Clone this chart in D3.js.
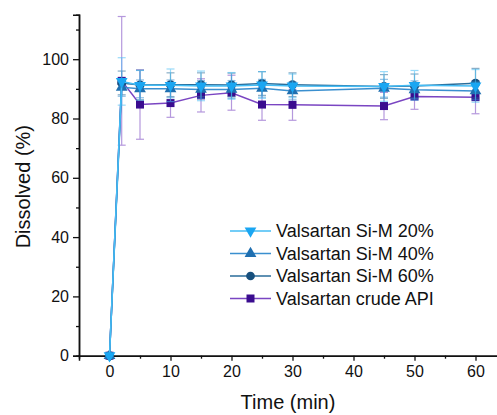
<!DOCTYPE html>
<html>
<head>
<meta charset="utf-8">
<script src="https://cdn.jsdelivr.net/npm/d3@7"></script>
<style>
  body { margin: 0; background: #fff; }
  svg { display: block; font-family: "Liberation Sans", Arial, sans-serif; }
</style>
</head>
<body>
<svg id="chart" width="497" height="415"></svg>
<script>
// ─── data ─────────────────────────────────────────────────────────────
const times = [0, 2, 5, 10, 15, 20, 25, 30, 45, 50, 60];

const si20 = [0, 92.5, 91.2, 91.2, 91.0, 91.0, 91.3, 91.0, 90.8, 91.2, 91.0];
const si20Err = [0, 8, 5, 5.5, 5, 4.5, 4.5, 4, 5, 5, 5.5];
const si40 = [0, 90.5, 90.0, 90.0, 89.8, 89.8, 90.2, 89.3, 90.2, 89.7, 89.3];
const si40Err = [0, 3, 3, 3, 3, 3, 3, 3, 3, 3, 3];
const si60 = [0, 92.0, 91.3, 91.4, 91.4, 91.3, 91.8, 91.4, 90.8, 91.0, 91.9];
const si60Err = [0, 4, 5, 4, 4, 4, 4, 4, 4, 4, 5];
const crude = [0, 92.7, 84.7, 85.2, 87.8, 88.7, 84.7, 84.6, 84.2, 87.4, 87.2];
const crudeErr = [0, 21.7, 11.7, 4.8, 5.6, 5.9, 5.3, 5.2, 4.6, 4.3, 5.6];

const seriesNames = ["Valsartan Si-M 20%", "Valsartan Si-M 40%", "Valsartan Si-M 60%", "Valsartan crude API"];
const xTicks = [0, 10, 20, 30, 40, 50, 60];
const yTicks = [0, 20, 40, 60, 80, 100];

const series = [
  { name: seriesNames[0], values: si20, err: si20Err, sym: d3.symbolTriangle, rot: 180, fill: "#1aa6f2", line: "#45bdf5" },
  { name: seriesNames[1], values: si40, err: si40Err, sym: d3.symbolTriangle, rot: 0, fill: "#1f6fb0", line: "#3a8fcf" },
  { name: seriesNames[2], values: si60, err: si60Err, sym: d3.symbolCircle, rot: 0, fill: "#17507e", line: "#2a6d9a" },
  { name: seriesNames[3], values: crude, err: crudeErr, sym: d3.symbolSquare, rot: 0, fill: "#3a0c8f", line: "#7a45c2" },
];

// ─── layout ───────────────────────────────────────────────────────────
const svg = d3.select("#chart");
const margin = { left: 79, top: 14, bottom: 59 };
const H = 415;

const x = d3.scaleLinear().domain([-5, 65]).range([margin.left, margin.left + 70 * 6.1]);
const y = d3.scaleLinear().domain([0, 115]).range([355.7, 355.7 - 115 * 2.965]);

const axisColor = "#111";

// x axis
const gx = svg.append("g").attr("transform", `translate(0,${y(0)})`);
gx.call(d3.axisBottom(x).tickValues(d3.range(5, 65, 10)).tickSize(3).tickFormat(""));
gx.call(g => g.append("g").call(d3.axisBottom(x).tickValues(xTicks).tickSize(5).tickPadding(5)
  .tickFormat(d3.format("d"))));
gx.selectAll(".domain").attr("stroke", axisColor).attr("stroke-width", 1.5);
gx.selectAll("line").attr("stroke", axisColor).attr("stroke-width", 1.3);
gx.selectAll("text").attr("fill", "#111").style("font-size", "16px")
  .style("font-family", "'Liberation Sans', Arial, sans-serif");

// y axis
const gy = svg.append("g").attr("transform", `translate(${x(-5)},0)`);
gy.call(d3.axisLeft(y).tickValues(d3.range(10, 120, 20)).tickSize(3).tickFormat(""));
gy.call(g => g.append("g").call(d3.axisLeft(y).tickValues(yTicks).tickSize(6).tickPadding(4)
  .tickFormat(d3.format("d"))));
gy.selectAll(".domain").attr("stroke", axisColor).attr("stroke-width", 1.5);
gy.selectAll("line").attr("stroke", axisColor).attr("stroke-width", 1.3);
gy.selectAll("text").attr("fill", "#111").style("font-size", "16px")
  .style("font-family", "'Liberation Sans', Arial, sans-serif");

// axis titles
svg.append("text").attr("x", 288).attr("y", 409).attr("text-anchor", "middle")
  .attr("fill", "#111").style("font-size", "20px").text("Time (min)");
svg.append("text").attr("transform", `translate(30,${y(57)}) rotate(-90)`)
  .attr("text-anchor", "middle").attr("fill", "#111").style("font-size", "20px").text("Dissolved (%)");

// ─── series ───────────────────────────────────────────────────────────
const plot = svg.append("g");
const line = d3.line().x(d => x(d[0])).y(d => y(d[1]));
const capW = 4;

// draw bottom-up: crude, 60, 40, 20
[...series].reverse().forEach(s => {
  const pts = times.map((t, i) => [t, s.values[i], s.err[i]]);
  const g = plot.append("g");

  // error bars
  const eb = g.selectAll(".eb").data(pts.filter(p => p[2] > 0)).join("g").attr("opacity", 0.55);
  eb.append("line").attr("x1", d => x(d[0])).attr("x2", d => x(d[0]))
    .attr("y1", d => y(d[1] - d[2])).attr("y2", d => y(d[1] + d[2]))
    .attr("stroke", s.line).attr("stroke-width", 1.2);
  [-1, 1].forEach(sg => {
    eb.append("line").attr("x1", d => x(d[0]) - capW).attr("x2", d => x(d[0]) + capW)
      .attr("y1", d => y(d[1] + sg * d[2])).attr("y2", d => y(d[1] + sg * d[2]))
      .attr("stroke", s.line).attr("stroke-width", 1.2);
  });

  g.append("path").datum(pts).attr("d", line).attr("fill", "none")
    .attr("stroke", s.line).attr("stroke-width", 1.5);

  const size = s.sym === d3.symbolSquare ? 64 : s.sym === d3.symbolCircle ? 64 : 60;
  g.selectAll(".m").data(pts).join("path")
    .attr("d", d3.symbol().type(s.sym).size(size))
    .attr("transform", d => `translate(${x(d[0])},${y(d[1])}) rotate(${s.rot})`)
    .attr("fill", s.fill);
});

// ─── legend ───────────────────────────────────────────────────────────
const leg = svg.append("g");
series.forEach((s, i) => {
  const ly = 231 + i * 22.5;
  leg.append("line").attr("x1", 230).attr("x2", 271).attr("y1", ly).attr("y2", ly)
    .attr("stroke", s.line).attr("stroke-width", 1.5);
  const size = s.sym === d3.symbolSquare ? 64 : 60;
  leg.append("path").attr("d", d3.symbol().type(s.sym).size(size))
    .attr("transform", `translate(250.5,${ly}) rotate(${s.rot})`).attr("fill", s.fill);
  leg.append("text").attr("x", 276).attr("y", ly + 6).attr("fill", "#111")
    .style("font-size", "18px").text(s.name);
});
</script>
</body>
</html>
